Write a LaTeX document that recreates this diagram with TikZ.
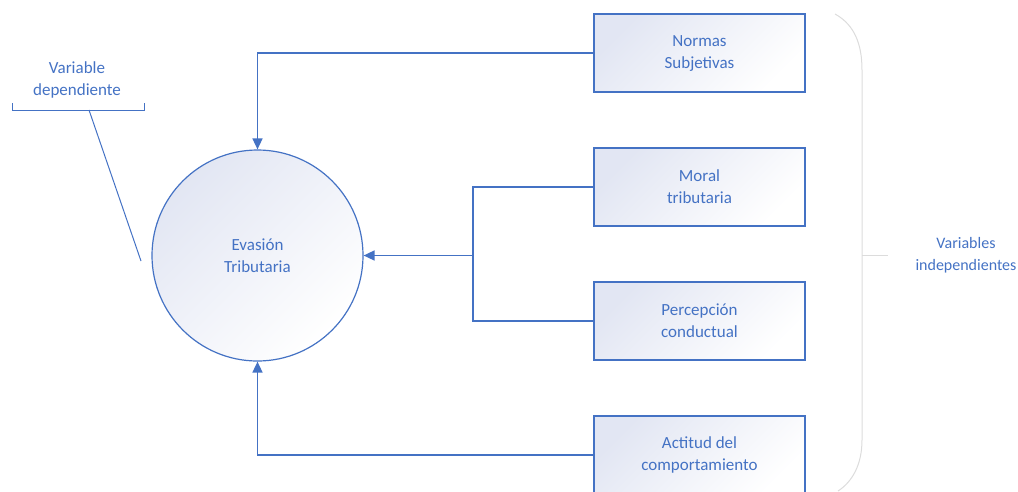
\documentclass[tikz,border=0pt]{standalone}
\usepackage{fontspec}
\setmainfont{Carlito}
\usetikzlibrary{arrows.meta}
\definecolor{cblue}{HTML}{4472C4}
\definecolor{clav}{HTML}{E2E6F3}
\definecolor{cgray}{HTML}{DCDCDC}
\begin{document}
\begin{tikzpicture}[x=1pt,y=-1pt,
  txt/.style={text=cblue,font=\fontsize{17}{22}\selectfont,align=center},
  varbox/.style={draw=cblue,line width=1.4pt,top color=clav,bottom color=white,shading angle=45,
     minimum width=211pt,minimum height=78pt,inner sep=0pt,txt},
  conn/.style={draw=cblue,line width=1.6pt},
  arr/.style={conn,-{Triangle[length=11pt,width=10pt]}}]
\useasboundingbox (0,0) rectangle (1018,491);
% circle
\node[circle,draw=cblue,line width=1.2pt,top color=clav,bottom color=white,shading angle=45,
  minimum size=211pt,inner sep=0pt,txt] (ev) at (257.5,255.5) {Evasión\\Tributaria};
% boxes
\node[varbox] (ns) at (699.5,53) {Normas\\Subjetivas};
\node[varbox] (mt) at (699.5,187) {Moral\\tributaria};
\node[varbox] (pc) at (699.5,321) {Percepción\\conductual};
\node[varbox] (ac) at (699.5,455) {Actitud del\\comportamiento};
% connectors
\coordinate (j) at (473,255.5);
\draw[arr] (ns.west) -| (ev.north);
\draw[arr] (ac.west) -| (ev.south);
\draw[conn] (mt.west) -| (j) |- (pc.west);
\draw[arr] (j) -- (ev.east);
% dependent variable callout
\node[txt] (vd) at (77,79.5) {Variable\\dependiente};
\coordinate (b1) at (12,103);
\coordinate (b2) at (144,103);
\coordinate (bm) at (89,110);
\coordinate (bt) at (141,261);
\draw[cblue,line width=1pt] (b1) -- (12,110) -- (144,110) -- (b2);
\draw[cblue,line width=1pt] (bm) -- (bt);
% independent variables brace
\node[txt,font=\fontsize{16}{22}\selectfont] (vi) at (966,255.5) {Variables\\independientes};
\coordinate (t0) at (835,14);
\coordinate (t1) at (862,70);
\coordinate (t2) at (862,440);
\coordinate (t3) at (838,491);
\coordinate (tm) at (862,255);
\coordinate (tk) at (888,255);
\draw[cgray,line width=1pt] (t0) .. controls (855,25) and (862,45) .. (t1) -- (t2) .. controls (862,465) and (852,482) .. (t3);
\draw[cgray,line width=1pt] (tm) -- (tk);
\end{tikzpicture}
\end{document}
